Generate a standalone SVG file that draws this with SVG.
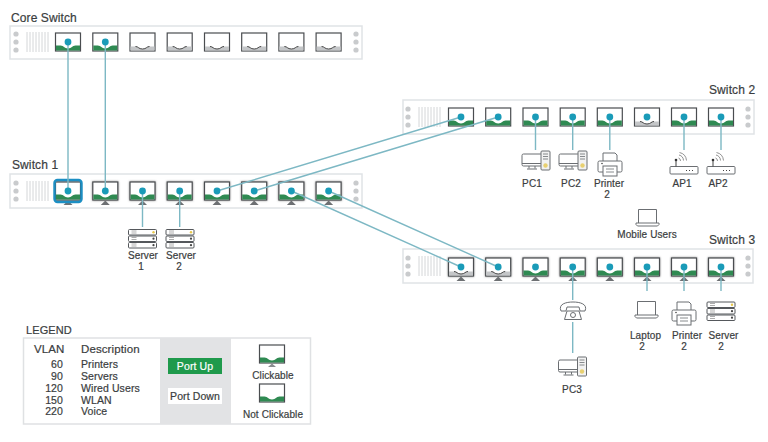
<svg xmlns="http://www.w3.org/2000/svg" xmlns:xlink="http://www.w3.org/1999/xlink" width="768" height="442" viewBox="0 0 768 442">
<style>
text{font-family:"Liberation Sans",Arial,sans-serif;fill:#3a3d40;stroke:#3a3d40;stroke-width:.2;letter-spacing:.1px}
.t{font-size:12px}
.l{font-size:10px}
.h{font-size:11.500px}
.v{font-size:10.500px}
.m{text-anchor:middle}
.e{text-anchor:end}
.sw{fill:#fff;stroke:#e0e3e6;stroke-width:1.500}
.vent{stroke:#d4d6d8;stroke-width:1}
.hole{fill:#c9cbcd}
.cx{fill:none;stroke:#7db8c4;stroke-width:1.400}
.ic{fill:#fff;stroke:#6b6e72;stroke-width:1}
.ir{fill:#fff;stroke:#55585c;stroke-width:1}
.dot{fill:#1a9bb8}
</style>
<defs>
<filter id="soft" x="-30%" y="-30%" width="160%" height="160%"><feGaussianBlur stdDeviation="1.300"/></filter>
<g id="frameL"><circle cx="16" cy="0" r="2.600" class="hole"/><circle cx="16" cy="8" r="2.600" class="hole"/><circle cx="16" cy="16" r="2.600" class="hole"/>
<path class="vent" d="M27-2v20M30-2v20M33-2v20M36-2v20M39-2v20M42-2v20M45-2v20M48-2v20"/></g>
<g id="holesR"><circle cy="-8" r="2.600" class="hole"/><circle r="2.600" class="hole"/><circle cy="8" r="2.600" class="hole"/></g>
<rect id="body" x="-12.500" y="-9" width="25" height="18" fill="#fff" stroke="#4a4d50" stroke-width="1.200"/>
<rect id="glow" x="-13" y="-9.500" width="26" height="19" fill="#777" filter="url(#soft)"/>
<g id="pu"><use xlink:href="#body"/><path d="M-12 3.500H-7.500C-4 3.500-4 6.500 0 6.500S4 3.500 7.500 3.500H12V8.500H-12Z" fill="#2f8a52"/></g>
<g id="pd"><use xlink:href="#body"/><path d="M-12 4.500H-7C-4 4.500-4 7 0 7S4 4.500 7 4.500H12V8.500H-12Z" fill="#c4c6c8"/><path d="M-7 4.500C-4 4.500-4 7 0 7S4 4.500 7 4.500" fill="none" stroke="#444" stroke-width="1"/></g>
<g id="pk"><use xlink:href="#glow"/><use xlink:href="#pu"/><use xlink:href="#tri"/></g>
<g id="pn"><use xlink:href="#glow"/><use xlink:href="#pd"/><use xlink:href="#tri"/></g>
<path id="tri" d="M-4.500 14H4.500L0 9.500Z" fill="#6d7073"/>
<g id="server"><g class="ir"><rect x="0" y="0" width="28" height="5.500" rx="1"/><rect x="0" y="6.500" width="28" height="5.500" rx="1"/><rect x="0" y="13" width="28" height="5.500" rx="1"/></g>
<path d="M3 1.500h5M3 3.500h5M3 8h5M3 10h5M3 14.500h5M3 16.500h5" stroke="#999" stroke-width=".8"/><circle cx="25" cy="2.700" r="1.200" fill="#e8c84a"/><circle cx="25" cy="9.200" r="1.100" fill="#444"/><circle cx="25" cy="15.700" r="1.100" fill="#444"/></g>
<g id="pc"><rect x="0" y="3" width="20" height="12" rx="1.500" class="ic"/><path d="M0 12.500H20M7 15v2.500M13 15v2.500M5 18h10" class="ic"/><rect x="19" y="0" width="9" height="19" rx="1" fill="#f2f2f2" stroke="#6b6e72"/><path d="M21 3h5M21 5.500h5M21 8h5" stroke="#6b6e72" stroke-width=".8"/><circle cx="23.500" cy="14.500" r="2.200" fill="#e8d070"/></g>
<g id="printer"><path d="M5 9V1H17L19 3V9" class="ic"/><rect x="0" y="9" width="24" height="11" rx="1.500" class="ic"/><rect x="5" y="14" width="14" height="10" class="ic"/><path d="M8 17h8M8 20h8" stroke="#6b6e72" stroke-width=".8"/><circle cx="4" cy="11.500" r=".8" fill="#444"/></g>
<g id="ap"><rect x="0" y="14.500" width="28" height="7.500" rx="1" class="ic"/><path d="M6 14.500V8" stroke="#444"/><circle cx="6" cy="8" r="1.300" fill="#333"/><path d="M8.500 6a3 3 0 0 1 2 3M9 3a6 6 0 0 1 4.500 5.500M9.500 .5a9 9 0 0 1 7 8" fill="none" stroke="#777" stroke-width=".8"/><path d="M16 18.500h1M19 18.500h1M22 18.500h1" stroke="#444"/></g>
<g id="laptop"><path d="M2.500 14V0.500H20.500V14" fill="#fff" stroke="#6b6e72"/><path d="M0 14H23V15.500L21.500 17H1.500L0 15.500Z" class="ic"/></g>
</defs>

<rect width="768" height="442" fill="#fff"/>

<g id="switch-core">
<text x="11" y="22" class="t">Core Switch</text>
<rect x="10" y="26" width="352" height="33" class="sw"/>
<use xlink:href="#frameL" y="34"/>
<use xlink:href="#pu" x="68" y="42"/><use xlink:href="#pu" x="105.300" y="42"/>
<use xlink:href="#pd" x="142.500" y="42"/><use xlink:href="#pd" x="179.700" y="42"/><use xlink:href="#pd" x="217" y="42"/><use xlink:href="#pd" x="254.200" y="42"/><use xlink:href="#pd" x="291.400" y="42"/><use xlink:href="#pd" x="328.600" y="42"/>
<use xlink:href="#holesR" x="356" y="42"/>
</g>

<g id="switch-1">
<text x="12" y="169" class="t">Switch 1</text>
<rect x="10" y="174" width="352" height="34" class="sw"/>
<use xlink:href="#frameL" y="183"/>
<use xlink:href="#pk" x="68" y="191"/><use xlink:href="#pk" x="105.300" y="191"/><use xlink:href="#pk" x="142.500" y="191"/><use xlink:href="#pk" x="179.700" y="191"/><use xlink:href="#pk" x="217" y="191"/><use xlink:href="#pk" x="254.200" y="191"/><use xlink:href="#pk" x="291.400" y="191"/><use xlink:href="#pk" x="328.600" y="191"/>
<rect x="54.500" y="180" width="27" height="22" rx="3" fill="none" stroke="#1c8fc4" stroke-width="2.400"/>
<use xlink:href="#holesR" x="356" y="191"/>
</g>

<g id="switch-2">
<text x="709" y="94" class="t">Switch 2</text>
<rect x="403" y="100" width="351" height="34" class="sw"/>
<use xlink:href="#frameL" x="392" y="109"/>
<use xlink:href="#pu" x="461" y="117"/><use xlink:href="#pu" x="498.200" y="117"/><use xlink:href="#pu" x="535.500" y="117"/><use xlink:href="#pu" x="572.700" y="117"/><use xlink:href="#pu" x="609.800" y="117"/><use xlink:href="#pd" x="647" y="117"/><use xlink:href="#pu" x="684" y="117"/><use xlink:href="#pu" x="721" y="117"/>
<use xlink:href="#holesR" x="748" y="117"/>
</g>

<g id="switch-3">
<text x="709" y="244" class="t">Switch 3</text>
<rect x="403" y="249" width="350" height="34" class="sw"/>
<use xlink:href="#frameL" x="392" y="258"/>
<use xlink:href="#pn" x="461" y="267"/><use xlink:href="#pn" x="498.200" y="267"/><use xlink:href="#pk" x="535.500" y="267"/><use xlink:href="#pk" x="572.700" y="267"/><use xlink:href="#pk" x="609.800" y="267"/><use xlink:href="#pk" x="647" y="267"/><use xlink:href="#pk" x="684" y="267"/><use xlink:href="#pk" x="721" y="267"/>
<use xlink:href="#holesR" x="748" y="266"/>
</g>

<g id="connectors">
<path class="cx" d="M68 42V191M105.300 42V191"/>
<path class="cx" d="M217 191L461 117M254.200 191L498.200 117"/>
<path class="cx" d="M291.400 191L461 267M328.600 191L498.200 267"/>
<path class="cx" d="M142.500 191V227M179.700 191V227"/>
<path class="cx" d="M535.500 117V150M572.700 117V150M609.800 117V150M684 117V150M721 117V150"/>
<path class="cx" d="M572.700 267V300M572.700 322V353"/>
<path class="cx" d="M647 267V291M684 267V291M721 267V291"/>
</g>
<g id="port-dots" class="dot">
<circle cx="68" cy="42" r="3.400"/><circle cx="105.300" cy="42" r="3.400"/>
<circle cx="68" cy="191" r="3.400"/><circle cx="105.300" cy="191" r="3.400"/><circle cx="142.500" cy="191" r="3.400"/><circle cx="179.700" cy="191" r="3.400"/><circle cx="217" cy="191" r="3.400"/><circle cx="254.200" cy="191" r="3.400"/><circle cx="291.400" cy="191" r="3.400"/><circle cx="328.600" cy="191" r="3.400"/>
<circle cx="461" cy="117" r="3.400"/><circle cx="498.200" cy="117" r="3.400"/><circle cx="535.500" cy="117" r="3.400"/><circle cx="572.700" cy="117" r="3.400"/><circle cx="609.800" cy="117" r="3.400"/><circle cx="647" cy="117" r="3.400"/><circle cx="684" cy="117" r="3.400"/><circle cx="721" cy="117" r="3.400"/>
<circle cx="461" cy="267" r="3.400"/><circle cx="498.200" cy="267" r="3.400"/><circle cx="535.500" cy="267" r="3.400"/><circle cx="572.700" cy="267" r="3.400"/><circle cx="609.800" cy="267" r="3.400"/><circle cx="647" cy="267" r="3.400"/><circle cx="684" cy="267" r="3.400"/><circle cx="721" cy="267" r="3.400"/>
</g>

<g id="server-1"><use xlink:href="#server" x="128.500" y="229.500"/><text class="l m" x="143" y="259">Server</text><text class="l m" x="141" y="270">1</text></g>
<g id="server-2"><use xlink:href="#server" x="166" y="229.500"/><text class="l m" x="181" y="259">Server</text><text class="l m" x="179" y="270">2</text></g>
<g id="pc1"><use xlink:href="#pc" x="522" y="151"/><text class="l m" x="532" y="187">PC1</text></g>
<g id="pc2"><use xlink:href="#pc" x="559" y="151"/><text class="l m" x="571" y="187">PC2</text></g>
<g id="printer-1"><use xlink:href="#printer" x="598" y="152"/><text class="l m" x="609" y="187">Printer</text><text class="l m" x="607" y="198">2</text></g>
<g id="ap1"><use xlink:href="#ap" x="670" y="152"/><text class="l m" x="682" y="187">AP1</text></g>
<g id="ap2"><use xlink:href="#ap" x="707" y="152"/><text class="l m" x="718" y="187">AP2</text></g>
<g id="mobile-users"><use xlink:href="#laptop" x="636" y="209"/><text class="l m" x="647" y="238">Mobile Users</text></g>
<g id="laptop-2"><use xlink:href="#laptop" x="635" y="301"/><text class="l m" x="645.500" y="339">Laptop</text><text class="l m" x="642" y="350">2</text></g>
<g id="printer-2"><use xlink:href="#printer" x="672" y="301"/><text class="l m" x="687" y="339">Printer</text><text class="l m" x="684" y="350">2</text></g>
<g id="server-3"><use xlink:href="#server" x="707" y="302"/><text class="l m" x="723.500" y="339">Server</text><text class="l m" x="721" y="350">2</text></g>
<g id="phone"><path d="M561 311C558 304 566 302 573 302S588 304 585 311L580 311L579 307H567L566 311Z" class="ic"/><path d="M564.500 319.500L567 311H579L581.500 319.500Z" class="ic"/><circle cx="573" cy="315" r="2.500" class="ic"/></g>
<g id="pc3"><use xlink:href="#pc" x="558.500" y="357"/><text class="l m" x="572" y="393">PC3</text></g>

<g id="legend">
<text x="26" y="334" class="v" style="font-size:11px">LEGEND</text>
<rect x="23.500" y="338" width="287" height="86" fill="#fff" stroke="#dfe1e3" stroke-width="1.500"/>
<rect x="160" y="338" width="71" height="86" fill="#e2e3e5"/>
<text class="h" x="34" y="353">VLAN</text><text class="h" x="81" y="353">Description</text>
<text class="v e" x="63" y="368">60</text><text class="v e" x="63" y="380">90</text><text class="v e" x="63" y="392">120</text><text class="v e" x="63" y="404">150</text><text class="v e" x="63" y="415">220</text>
<text class="v" x="81" y="368">Printers</text><text class="v" x="81" y="380">Servers</text><text class="v" x="81" y="392">Wired Users</text><text class="v" x="81" y="404">WLAN</text><text class="v" x="81" y="415">Voice</text>
<rect x="168" y="358" width="54" height="16" fill="#1f9a4c"/><text class="v m" x="195" y="369.500" style="fill:#fff;stroke:#fff">Port Up</text>
<rect x="168" y="388" width="54" height="16" fill="#fff"/><text class="v m" x="195" y="400">Port Down</text>
<use xlink:href="#pu" x="272" y="354"/><path d="M268 367H276L272 363.500Z" fill="#8a8d90"/>
<text class="l m" x="273" y="379">Clickable</text>
<use xlink:href="#pu" x="272" y="393"/>
<text class="l m" x="273" y="418">Not Clickable</text>
</g>
</svg>
